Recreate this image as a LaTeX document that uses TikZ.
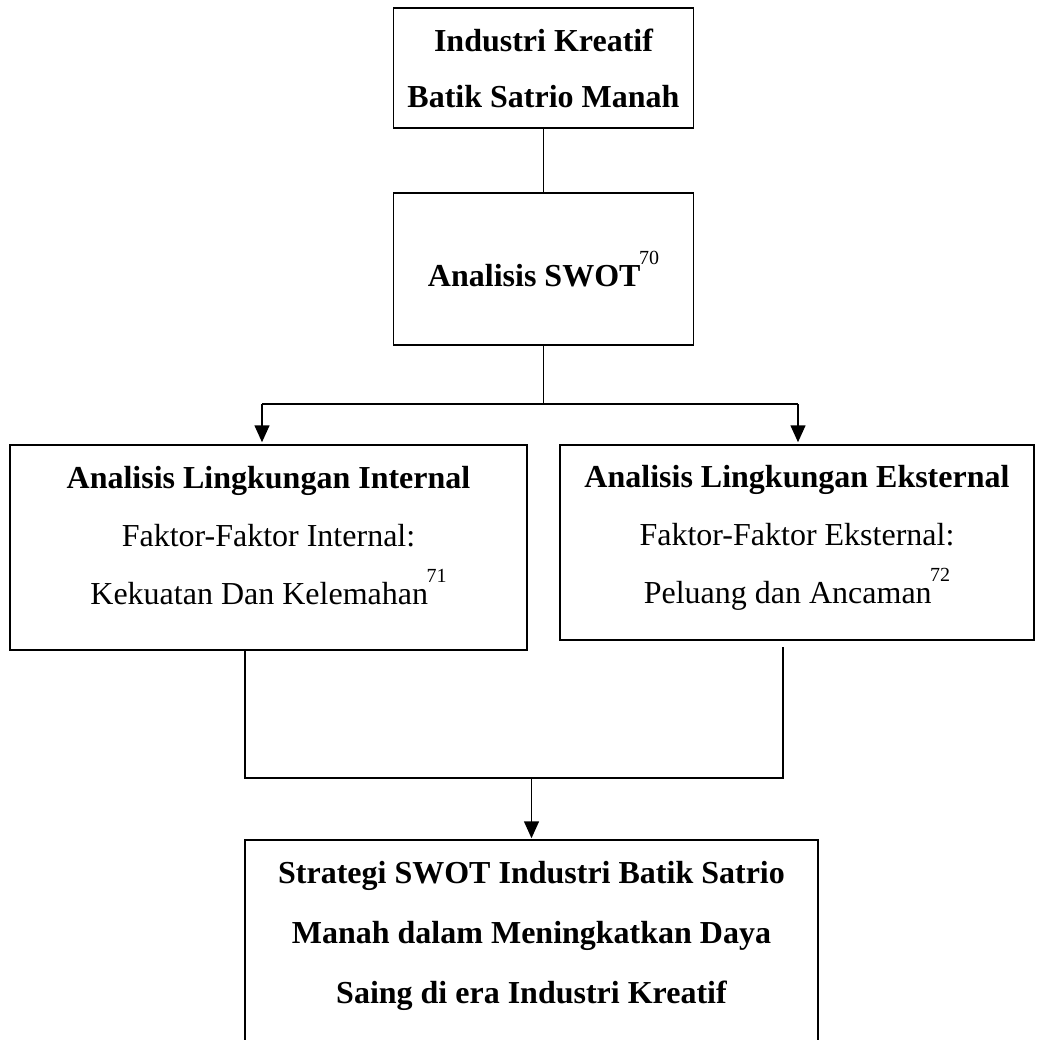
\documentclass[tikz,border=0pt]{standalone}
\usepackage{fontspec}
\setmainfont{Liberation Serif}
\usetikzlibrary{arrows.meta,calc}
\newcommand{\fnmark}[1]{\kern-1.5pt\raisebox{0.7em}{\fontsize{20}{20}\selectfont\mdseries #1}}
\begin{document}
\begin{tikzpicture}[x=1pt,y=-1pt,
  box/.style={draw, line width=1.5pt, rectangle, inner sep=0pt},
  txt/.style={align=center, font=\fontsize{32}{58}\selectfont},
  conn/.style={line width=1.5pt},
  arr/.style={line width=1.5pt, -{Triangle[length=17pt,width=15pt]}}]
\useasboundingbox (0,0) rectangle (1041,1039);
% boxes
\node[box, minimum width=300pt, minimum height=120pt, txt, font=\bfseries\fontsize{32}{56}\selectfont] (b1) at (543.5,68) {Industri Kreatif\\Batik Satrio Manah};
\node[box, minimum width=300pt, minimum height=152pt, txt, font=\bfseries\fontsize{32}{56}\selectfont] (b2) at (543.5,269) {Analisis SWOT\fnmark{70}};
\node[box, minimum width=517pt, minimum height=205pt] (b3) at (268.5,547.5) {};
\node[box, minimum width=474pt, minimum height=195pt] (b4) at (797,542.5) {};
\node[box, minimum width=573pt, minimum height=260pt] (b5) at (531.5,970) {};
% texts
\node[txt] (t3) at (268.5,536) {\textbf{Analisis Lingkungan Internal}\\Faktor-Faktor Internal:\\Kekuatan Dan Kelemahan\fnmark{71}};
\node[txt] (t4) at (797,538) {\textbf{Analisis Lingkungan Eksternal}\\Faktor-Faktor Eksternal:\\Peluang dan Ancaman\fnmark{72}};
\node[txt, font=\bfseries\fontsize{32}{60}\selectfont] (t5) at (531.5,936) {Strategi SWOT Industri Batik Satrio\\Manah dalam Meningkatkan Daya\\Saing di era Industri Kreatif};
% junctions
\coordinate (j1) at (543.5,404);
\coordinate (jl) at (262,404);
\coordinate (jr) at (798,404);
\coordinate (kl) at (245,778);
\coordinate (kr) at (783,778);
\coordinate (km) at (531.5,778);
% connectors
\draw[conn] (b1.south) -- (b2.north);
\draw[conn] (b2.south) -- (j1);
\draw[conn] (jl) -- (jr);
\draw[arr, shorten >=2pt] (jl) -- (jl |- b3.north);
\draw[arr, shorten >=2pt] (jr) -- (jr |- b4.north);
\draw[conn] (kl |- b3.south) -- (kl) -- (kr) -- ($(kr |- b4.south)+(0,6)$);
\draw[arr, shorten >=1pt] (km) -- (km |- b5.north);
\end{tikzpicture}
\end{document}
